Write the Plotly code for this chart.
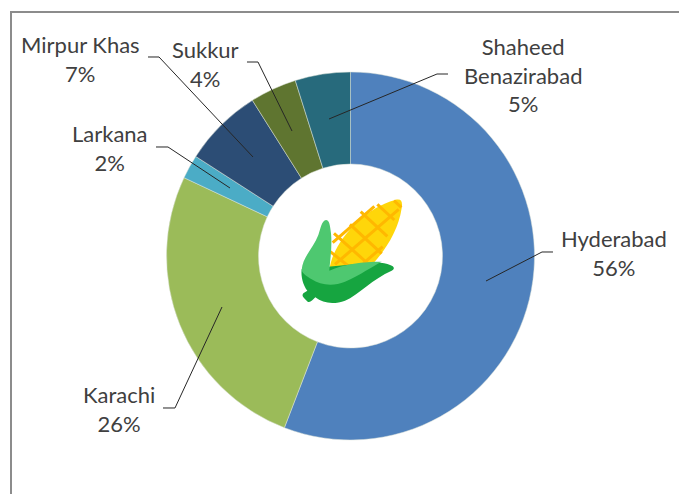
import plotly.graph_objects as go

W, H = 679, 494

regions = ["Hyderabad", "Karachi", "Larkana", "Mirpur Khas", "Sukkur", "Shaheed<br>Benazirabad"]
shares = [55.85, 26.15, 2.1, 6.95, 4.1, 4.85]
colors = ["#4F81BD", "#9BBB59", "#4BACC6", "#2C4D75", "#5F7530", "#276A7C"]

CX, CY, R = 350.5, 256, 184
label_pos = [(614, 253), (119, 409), (110, 148), (80.5, 59), (205, 64), (523, 75)]
leaders = [
    [(553, 252), (542, 252), (486, 281)],
    [(163, 408), (175, 408), (222, 307)],
    [(156, 147), (168, 147), (230, 188)],
    [(148, 57), (159, 57), (253, 157)],
    [(247, 62), (258, 62), (292, 131)],
    [(448, 74), (437, 74), (329, 119)],
]


def px(x, y):
    return x / W, 1 - y / H


def pt(x, y):
    a, b = px(x, y)
    return f"{a:.5f} {b:.5f}"


def ic(x, y):
    return pt(270 + x / 3, 180 + y / 3)


def corn(d):
    out = []
    for cmd, *c in d:
        seg = cmd
        for i in range(0, len(c), 2):
            seg += " " + ic(c[i], c[i + 1])
        out.append(seg)
    return " ".join(out) + " Z"


shapes = [
    dict(type="path", xref="paper", yref="paper", layer="above",
         path=f"M {pt(11, 494)} L {pt(11, 12)} L {pt(679, 12)}",
         line=dict(color="#8C8C8C", width=2)),
]
for a, b, c in leaders:
    shapes.append(dict(type="path", xref="paper", yref="paper",
                       path=f"M {pt(*a)} L {pt(*b)} L {pt(*c)}",
                       line=dict(color="#262626", width=1)))

yellow = [("M", 178, 272), ("C", 185, 190, 280, 85, 375, 60), ("C", 395, 55, 398, 65, 395, 85),
          ("C", 385, 150, 350, 205, 310, 250)]
shapes.append(dict(type="path", xref="paper", yref="paper", path=corn(yellow),
                   fillcolor="#FFD60A", line=dict(width=0)))
lattice = [
    ((240, 133), (335, 221)), ((272, 95), (352, 169)), ((322, 73), (373, 120)), ((372, 62), (394, 82)),
    ((192, 160), (295, 252)), ((181, 215), (235, 258)),
    ((195, 253), (386, 88)), ((188, 188), (313, 79)), ((280, 250), (338, 200)),
]
for a, b in lattice:
    shapes.append(dict(type="path", xref="paper", yref="paper",
                       path=f"M {ic(*a)} L {ic(*b)}",
                       line=dict(color="#FFB800", width=3)))
dark = [("M", 95, 268), ("C", 92, 290, 100, 318, 112, 332), ("L", 100, 340), ("C", 95, 346, 98, 351, 104, 356),
        ("L", 113, 365), ("C", 120, 369, 127, 362, 136, 352), ("C", 160, 372, 195, 373, 225, 362),
        ("C", 265, 345, 310, 295, 365, 272), ("C", 376, 268, 372, 259, 362, 256), ("C", 345, 248, 330, 246, 300, 248)]
shapes.append(dict(type="path", xref="paper", yref="paper", path=corn(dark),
                   fillcolor="#16A540", line=dict(width=0)))
light = [("M", 168, 120), ("C", 178, 120, 180, 135, 183, 160), ("C", 187, 200, 180, 240, 178, 272),
         ("C", 220, 252, 280, 245, 335, 245), ("C", 310, 258, 270, 285, 225, 305),
         ("C", 190, 320, 150, 315, 125, 298), ("C", 110, 288, 98, 282, 95, 270),
         ("C", 98, 230, 130, 205, 145, 165), ("C", 152, 145, 155, 122, 168, 120)]
shapes.append(dict(type="path", xref="paper", yref="paper", path=corn(light),
                   fillcolor="#4EC870", line=dict(width=0)))

annotations = []
for name, val, (x, y) in zip(regions, shares, label_pos):
    ax, ay = px(x, y)
    annotations.append(dict(x=ax, y=ay, xref="paper", yref="paper", showarrow=False,
                            xanchor="center", yanchor="middle", align="center",
                            text=f"{name}<br>{round(val)}%",
                            font=dict(family="Lato", size=22, color="#404040")))

x0, y0 = px(CX - R, CY + R)
x1, y1 = px(CX + R, CY - R)

fig = go.Figure(go.Pie(
    labels=[r.replace("<br>", " ") for r in regions], values=shares, hole=0.5, sort=False,
    direction="clockwise", rotation=0, textinfo="none",
    marker=dict(colors=colors, line=dict(color="#DDE3D8", width=0.5)),
    domain=dict(x=[x0, x1], y=[y0, y1]), showlegend=False))
fig.update_layout(width=W, height=H, margin=dict(l=0, r=0, t=0, b=0),
                  paper_bgcolor="white", shapes=shapes, annotations=annotations)
fig.write_html("out.html", config=dict(displayModeBar=False),
               post_script="document.body.style.margin='0';")
